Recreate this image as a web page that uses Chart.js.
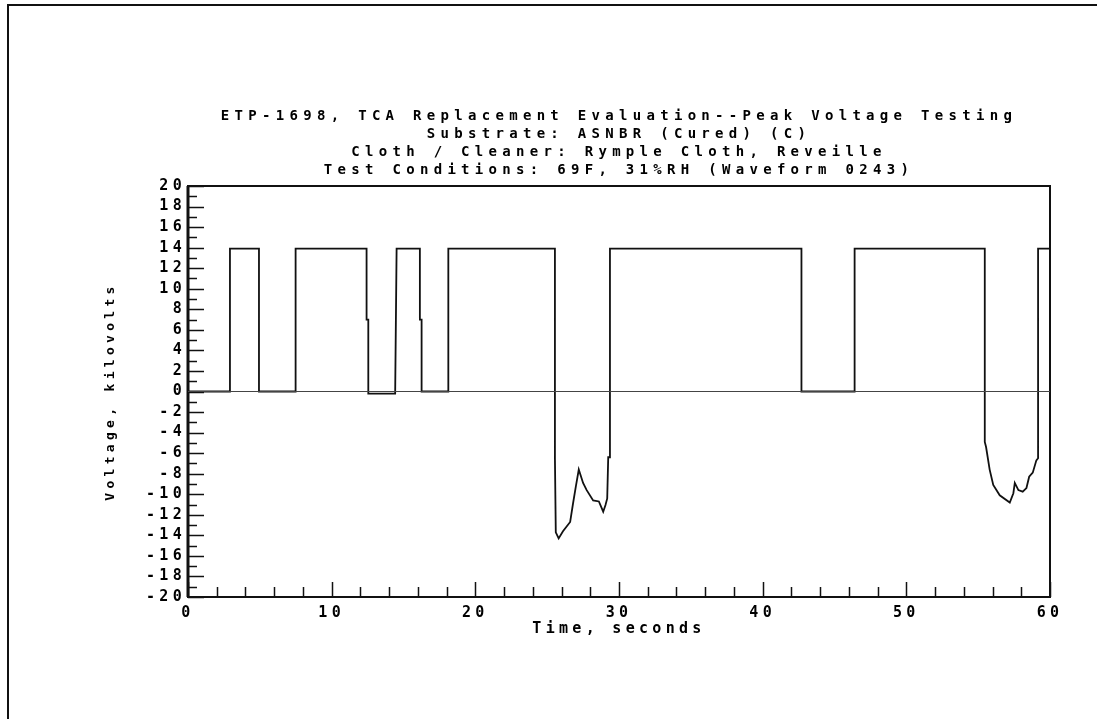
<!DOCTYPE html>
<html>
<head>
<meta charset="utf-8">
<script src="https://cdn.jsdelivr.net/npm/chart.js@4.4.1/dist/chart.umd.min.js"></script>
<style>
  html, body { margin: 0; padding: 0; background: #fff; }
  #wrap { width: 1097px; height: 719px; position: relative; }
</style>
</head>
<body>
<div id="wrap"><canvas id="peakVoltageChart" width="1097" height="719"></canvas></div>
<script>
// waveform 0243
var timeS = [
  0, 2.92, 2.92, 4.94, 4.94, 7.49, 7.49, 12.43, 12.43, 12.55, 12.55, 14.42,
  14.52, 16.14, 16.14, 16.26, 16.26, 18.12, 18.12, 25.54, 25.54, 25.6, 25.8,
  26.1, 26.6, 26.8, 27.0, 27.2, 27.5, 27.75, 28.2, 28.6, 28.9, 29.06, 29.18,
  29.25, 29.37, 29.37, 42.7, 42.7, 46.4, 46.4, 55.46, 55.46, 55.55, 55.8,
  56.05, 56.5, 57.2, 57.45, 57.55, 57.8, 58.1, 58.36, 58.55, 58.8, 59.05,
  59.17, 59.17, 60
];
var voltageKV = [
  0, 0, 13.9, 13.9, 0, 0, 13.9, 13.9, 7.0, 7.0, -0.2, -0.2,
  13.9, 13.9, 7.0, 7.0, 0, 0, 13.9, 13.9, -6.5, -13.7, -14.3,
  -13.6, -12.7, -10.9, -9.2, -7.6, -8.9, -9.6, -10.6, -10.7, -11.7, -11.05, -10.4,
  -6.4, -6.4, 13.9, 13.9, 0, 0, 13.9, 13.9, -4.9, -5.4, -7.6,
  -9.1, -10.1, -10.8, -9.9, -8.9, -9.6, -9.75, -9.4, -8.3, -7.9, -6.7,
  -6.5, 13.9, 13.9
];
var titleLines = [
  "ETP-1698, TCA Replacement Evaluation--Peak Voltage Testing",
  "Substrate: ASNBR (Cured) (C)",
  "Cloth / Cleaner: Rymple Cloth, Reveille",
  "Test Conditions: 69F, 31%RH (Waveform 0243)"
];
var xMin = 0, xMax = 60, xStep = 10, xMinorStep = 2;
var yMin = -20, yMax = 20, yStep = 2, yMinorStep = 1;

var points = timeS.map(function (t, i) {
  return { x: t, y: voltageKV[i] };
});

var monoFont = "'DejaVu Sans Mono', 'Liberation Mono', monospace";

// plot frame, inward ticks, page border and the wide plotter letter spacing
var framePlugin = {
  id: "framePlugin",
  beforeDraw: function (chart) {
    var ctx = chart.ctx;
    ctx.save();
    ctx.fillStyle = "#fff";
    ctx.fillRect(0, 0, chart.width, chart.height);
    ctx.strokeStyle = "#111";
    ctx.lineWidth = 2;
    ctx.beginPath();
    ctx.moveTo(8, chart.height);
    ctx.lineTo(8, 5);
    ctx.lineTo(chart.width, 5);
    ctx.stroke();
    ctx.restore();
    ctx.letterSpacing = "5.3px"; // title
  },
  afterDatasetsDraw: function (chart) {
    var ctx = chart.ctx;
    var area = chart.chartArea;
    var xs = chart.scales.x;
    var ys = chart.scales.y;
    ctx.save();
    ctx.strokeStyle = "#111";
    ctx.lineWidth = 1.5;
    ctx.beginPath();
    for (var v = yMin; v <= yMax; v += yMinorStep) {
      var py = Math.round(ys.getPixelForValue(v)) + 0.5;
      var len = v % yStep === 0 ? 16 : 9;
      ctx.moveTo(area.left, py);
      ctx.lineTo(area.left + len, py);
    }
    for (var t = xMin; t <= xMax; t += xMinorStep) {
      var px = Math.round(xs.getPixelForValue(t)) + 0.5;
      var tl = t % xStep === 0 ? 15 : 10;
      ctx.moveTo(px, area.bottom);
      ctx.lineTo(px, area.bottom - tl);
    }
    ctx.stroke();
    ctx.lineWidth = 2;
    ctx.strokeRect(area.left, area.top, area.right - area.left, area.bottom - area.top);
    ctx.lineWidth = 3;
    ctx.beginPath();
    ctx.moveTo(area.left, area.top);
    ctx.lineTo(area.left, area.bottom);
    ctx.stroke();
    ctx.restore();
    ctx.letterSpacing = "4.3px"; // axis labels (scales drawn at z 1)
  }
};

var canvas = document.getElementById("peakVoltageChart");
var ctx = canvas.getContext("2d");
var myPeakVoltageChart = new Chart(ctx, {
  type: "scatter",
  data: {
    datasets: [
      {
        data: points,
        showLine: true,
        borderColor: "#111",
        borderWidth: 1.8,
        pointRadius: 0,
        tension: 0,
        fill: false,
      },
    ],
  },
  options: {
    responsive: false,
    animation: false,
    events: [],
    layout: { padding: { left: 0, right: 47, top: 0, bottom: 0 } },
    plugins: {
      legend: { display: false },
      tooltip: { enabled: false },
      title: {
        display: true,
        fullSize: false,
        text: titleLines,
        color: "#000",
        font: { family: monoFont, size: 14, weight: "bold", lineHeight: "18px" },
        padding: { top: 107, bottom: 7 },
      },
    },
    scales: {
      x: {
        type: "linear",
        min: xMin,
        max: xMax,
        afterFit: function (scale) { scale.height = 122; },
        ticks: {
          z: 1,
          stepSize: xStep,
          padding: 7,
          color: "#000",
          maxRotation: 0,
          autoSkip: false,
          font: { family: monoFont, size: 15, weight: "bold" },
        },
        grid: { z: 1, display: false, drawTicks: false },
        border: { display: false },
        title: {
          display: true,
          text: "Time, seconds",
          color: "#000",
          font: { family: monoFont, size: 15, weight: "bold" },
          padding: { top: 0, bottom: 81 },
        },
      },
      y: {
        type: "linear",
        min: yMin,
        max: yMax,
        afterFit: function (scale) { scale.width = 188; },
        ticks: {
          z: 1,
          stepSize: yStep,
          padding: 2,
          color: "#000",
          autoSkip: false,
          font: { family: monoFont, size: 15, weight: "bold" },
        },
        grid: {
          z: 1,
          drawTicks: false,
          lineWidth: 1,
          color: function (c) {
            return c.tick && c.tick.value === 0 ? "#444" : "rgba(0,0,0,0)";
          },
        },
        border: { display: false },
        title: {
          display: true,
          text: "Voltage, kilovolts",
          color: "#000",
          font: { family: monoFont, size: 13, weight: "bold" },
          padding: { top: 103, bottom: 0 },
        },
      },
    },
  },
  plugins: [framePlugin],
});
</script>
</body>
</html>
